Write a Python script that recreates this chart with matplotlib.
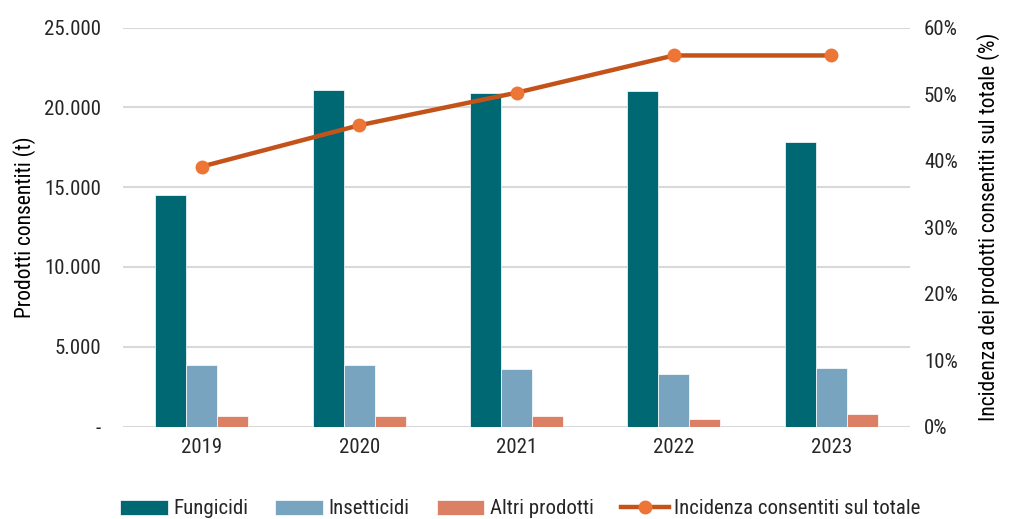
import numpy as np
import matplotlib.pyplot as plt
from matplotlib.ticker import FuncFormatter, PercentFormatter

plt.rcParams['font.family'] = ['Roboto Condensed', 'Roboto', 'DejaVu Sans']
plt.rcParams['text.color'] = '#262626'
plt.rcParams['xtick.color'] = '#262626'
plt.rcParams['ytick.color'] = '#262626'

# %% data
anni = ['2019', '2020', '2021', '2022', '2023']
fungicidi = [14500, 21100, 20900, 21000, 17800]
insetticidi = [3850, 3850, 3620, 3300, 3680]
altri = [650, 640, 640, 480, 800]
incidenza = [39.1, 45.3, 50.2, 55.8, 55.8]

# %% make plot
fig = plt.figure(figsize=(10.1, 5.19), dpi=100)
ax = fig.add_axes([0.122, 0.178, 0.779, 0.769])
ax2 = ax.twinx()

x = np.arange(len(anni))
w = 0.197
ax.bar(x - w, fungicidi, w, color='#006873', edgecolor='white', linewidth=0.5, label='Fungicidi', zorder=2)
ax.bar(x, insetticidi, w, color='#78A4C0', edgecolor='white', linewidth=0.5, label='Insetticidi', zorder=2)
ax.bar(x + w, altri, w, color='#DB8065', edgecolor='white', linewidth=0.5, label='Altri prodotti', zorder=2)

ax2.plot(x, incidenza, color='#C4531A', lw=3.2, marker='o', markersize=9,
         markerfacecolor='#ED7535', markeredgecolor='#ED7535', label='Incidenza consentiti sul totale')

ax.set_xlim(-0.5, len(anni) - 0.5)
ax.set_ylim(0, 25000)
ax.set_yticks(np.arange(0, 25001, 5000))
ax.yaxis.set_major_formatter(FuncFormatter(lambda v, p: '-' if v == 0 else f'{int(v):,}'.replace(',', '.')))
ax.set_xticks(x)
ax.set_xticklabels(anni)
ax2.set_ylim(0, 60)
ax2.set_yticks(np.arange(0, 61, 10))
ax2.yaxis.set_major_formatter(PercentFormatter(decimals=0))

# gridlines only, no frame
ax.grid(axis='y', color='#D9D9D9', lw=1.5, zorder=0)
for a in (ax, ax2):
    for s in a.spines.values():
        s.set_visible(False)
ax.tick_params(axis='y', length=0, labelsize=15, pad=16)
ax.tick_params(axis='x', length=0, labelsize=15, pad=8)
ax2.tick_params(axis='y', length=0, labelsize=15, pad=10)

ax.set_ylabel('Prodotti consentiti (t)', fontsize=15.5, labelpad=6)
ax2.set_ylabel('Incidenza dei prodotti consentiti sul totale (%)', fontsize=15.5, labelpad=14)

h1, l1 = ax.get_legend_handles_labels()
h2, l2 = ax2.get_legend_handles_labels()
fig.legend(h1 + h2, l1 + l2, loc='lower center', bbox_to_anchor=(0.515, -0.035), ncol=4,
           frameon=False, fontsize=15, handlelength=2.3, handleheight=0.75, columnspacing=1.3,
           handletextpad=0.25)

plt.savefig('out.png', dpi=100)
